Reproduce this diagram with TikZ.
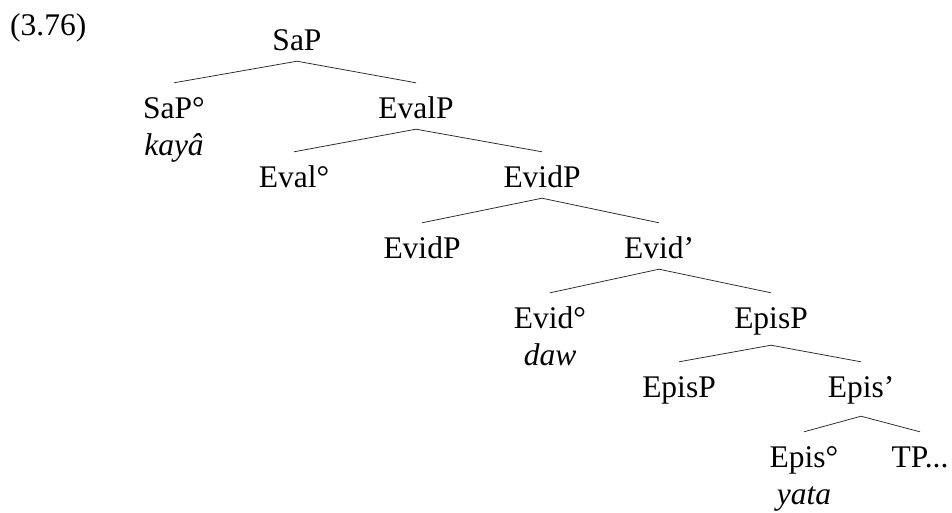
\documentclass[tikz,border=0pt]{standalone}
\usepackage{fontspec}
\setmainfont{Liberation Serif}
\begin{document}
\begin{tikzpicture}[x=1pt,y=1pt,
  lbl/.style={font=\fontsize{31.5}{37}\selectfont, anchor=base, inner xsep=0pt, inner ysep=4pt, text height=31pt, text depth=7pt},
  gloss/.style={font=\fontsize{31.5}{37}\selectfont\itshape, anchor=base, inner sep=0pt},
  branch/.style={line width=0.75pt, draw=black!85}]
\useasboundingbox (0,0) rectangle (952,-512);
\node[lbl, anchor=base west] (num) at (10,-35) {(3.76)};
\node[lbl] (SaP) at (297,-50) {SaP};
\node[lbl] (SaPo) at (174,-118) {SaP°};
\node[gloss] (kaya) at (174,-155) {kayâ};
\node[lbl] (EvalP) at (416,-118) {EvalP};
\node[lbl] (Evalo) at (294,-187) {Eval°};
\node[lbl] (EvidP) at (542,-187) {EvidP};
\node[lbl] (EvidPs) at (422,-258) {EvidP};
\node[lbl] (Evidb) at (659,-258) {Evid’};
\node[lbl] (Evido) at (550,-328) {Evid°};
\node[gloss] (daw) at (550,-365) {daw};
\node[lbl, text depth=13pt] (EpisP) at (771,-328) {EpisP};
\node[lbl] (EpisPs) at (679,-397) {EpisP};
\node[lbl, text depth=15pt] (Episb) at (861,-397) {Epis’};
\node[lbl] (Episo) at (804,-467) {Epis°};
\node[gloss] (yata) at (804,-504) {yata};
\node[lbl] (TP) at (920,-467) {TP...};
\draw[branch] (SaP.south) -- (SaPo.north);
\draw[branch] (SaP.south) -- (EvalP.north);
\draw[branch] (EvalP.south) -- (Evalo.north);
\draw[branch] (EvalP.south) -- (EvidP.north);
\draw[branch] (EvidP.south) -- (EvidPs.north);
\draw[branch] (EvidP.south) -- (Evidb.north);
\draw[branch] (Evidb.south) -- (Evido.north);
\draw[branch] (Evidb.south) -- (EpisP.north);
\draw[branch] (EpisP.south) -- (EpisPs.north);
\draw[branch] (EpisP.south) -- (Episb.north);
\draw[branch] (Episb.south) -- (Episo.north);
\draw[branch] (Episb.south) -- (TP.north);
\end{tikzpicture}
\end{document}
